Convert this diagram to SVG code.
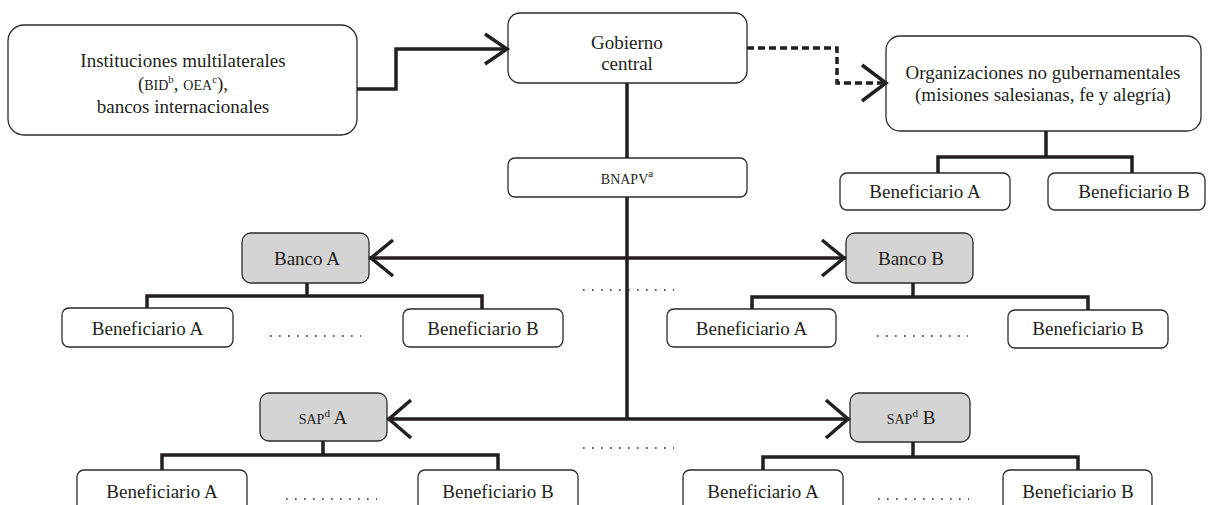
<svg xmlns="http://www.w3.org/2000/svg" width="1210" height="505" viewBox="0 0 1210 505">
<defs>
<style>
.box{fill:#fff;stroke:#2b2b2b;stroke-width:1.3}
.gray{fill:#d4d4d4}
.t{font-family:"Liberation Serif","Times New Roman",serif;font-size:19px;fill:#231f20;text-anchor:middle}
.sc{font-size:14px}
.sup{font-size:11px}
.conn{stroke:#231f20;stroke-width:3.5;fill:none;stroke-linejoin:miter}
.dash{stroke-dasharray:7 4}
.dots{stroke:#231f20;stroke-width:1.6;stroke-dasharray:1.6 7.4;fill:none}
</style>
</defs>
<rect width="1210" height="505" fill="#fff"/>
<g id="nodes">
<g id="inst"><rect class="box" x="8" y="25" width="349" height="110" rx="16"/>
<text class="t" x="183" y="67">Instituciones multilaterales</text>
<text class="t" x="183" y="90">(<tspan class="sc">BID</tspan><tspan class="sup" dy="-7">b</tspan><tspan dy="7">, </tspan><tspan class="sc">OEA</tspan><tspan class="sup" dy="-7">c</tspan><tspan dy="7">),</tspan></text>
<text class="t" x="183" y="113">bancos internacionales</text></g>
<g id="gobierno"><rect class="box" x="508" y="13" width="239" height="70" rx="12"/>
<text class="t" x="627" y="49">Gobierno</text><text class="t" x="627" y="70">central</text></g>
<g id="ong"><rect class="box" x="886" y="36" width="315" height="95" rx="14"/>
<text class="t" x="1043" y="79">Organizaciones no gubernamentales</text>
<text class="t" x="1043" y="101">(misiones salesianas, fe y alegría)</text></g>
<g id="bnapv"><rect class="box" x="508" y="158" width="239" height="39" rx="7"/>
<text class="t" x="627" y="184"><tspan class="sc">BNAPV</tspan><tspan class="sup" dy="-7">a</tspan></text></g>
<g id="ong-benA"><rect class="box" x="840" y="173" width="170" height="37" rx="7"/><text class="t" x="925" y="198">Beneficiario A</text></g>
<g id="ong-benB"><rect class="box" x="1048" y="173" width="157" height="37" rx="7"/><text class="t" x="1134" y="198">Beneficiario B</text></g>
<g id="bancoA"><rect class="box gray" x="242" y="233" width="127" height="50" rx="9"/><text class="t" x="307" y="265">Banco A</text></g>
<g id="bancoB"><rect class="box gray" x="846" y="233" width="127" height="50" rx="9"/><text class="t" x="911" y="265">Banco B</text></g>
<g id="bancoA-benA"><rect class="box" x="62" y="308" width="171" height="39" rx="7"/><text class="t" x="147.5" y="334.5">Beneficiario A</text></g>
<g id="bancoA-benB"><rect class="box" x="403" y="309" width="160" height="38" rx="7"/><text class="t" x="483" y="334.5">Beneficiario B</text></g>
<g id="bancoB-benA"><rect class="box" x="667" y="309" width="169" height="38" rx="7"/><text class="t" x="751.5" y="334.5">Beneficiario A</text></g>
<g id="bancoB-benB"><rect class="box" x="1008" y="310" width="160" height="38" rx="7"/><text class="t" x="1088" y="335">Beneficiario B</text></g>
<g id="sapA"><rect class="box gray" x="260" y="393" width="127" height="48" rx="9"/>
<text class="t" x="323" y="424"><tspan class="sc">SAP</tspan><tspan class="sup" dy="-7">d</tspan><tspan dy="7"> A</tspan></text></g>
<g id="sapB"><rect class="box gray" x="850" y="393" width="120" height="49" rx="9"/>
<text class="t" x="911" y="424"><tspan class="sc">SAP</tspan><tspan class="sup" dy="-7">d</tspan><tspan dy="7"> B</tspan></text></g>
<g id="sapA-benA"><rect class="box" x="77" y="470" width="170" height="45" rx="7"/><text class="t" x="162" y="498">Beneficiario A</text></g>
<g id="sapA-benB"><rect class="box" x="418" y="470" width="160" height="45" rx="7"/><text class="t" x="498" y="498">Beneficiario B</text></g>
<g id="sapB-benA"><rect class="box" x="683" y="470" width="160" height="45" rx="7"/><text class="t" x="763" y="498">Beneficiario A</text></g>
<g id="sapB-benB"><rect class="box" x="1003" y="470" width="149" height="45" rx="7"/><text class="t" x="1078" y="498">Beneficiario B</text></g>
</g>
<g id="connectors">
<path class="conn" d="M357,89 H396 V49 H506"/>
<path class="conn" d="M485,34 L507,49 L485,64"/>
<path class="conn dash" d="M747,48 H837 V83 H884"/>
<path class="conn" d="M862,65 L886,83 L862,101"/>
<path class="conn" d="M627,83 V158"/>
<path class="conn" d="M627,197 V419"/>
<path class="conn" d="M369,258 H846"/>
<path class="conn" d="M393,240 L371,258 L393,276"/>
<path class="conn" d="M822,240 L844,258 L822,276"/>
<path class="conn" d="M387,419 H850"/>
<path class="conn" d="M411,400 L389,419 L411,438"/>
<path class="conn" d="M826,400 L848,419 L826,438"/>
<path class="conn" d="M1046,131 V157 M938,173 V157 H1132 V173"/>
<path class="conn" d="M307,283 V296 M147,308 V296 H482 V309"/>
<path class="conn" d="M913,283 V297 M752,309 V297 H1088 V310"/>
<path class="conn" d="M323,441 V455 M162,470 V455 H498 V470"/>
<path class="conn" d="M913,442 V457 M763,470 V457 H1078 V470"/>
</g>
<g id="ellipses">
<path class="dots" d="M583,290 H674"/>
<path class="dots" d="M583,448 H674"/>
<path class="dots" d="M270,336 H361"/>
<path class="dots" d="M877,336 H968"/>
<path class="dots" d="M286,499 H377"/>
<path class="dots" d="M878,499 H969"/>
</g>
</svg>
